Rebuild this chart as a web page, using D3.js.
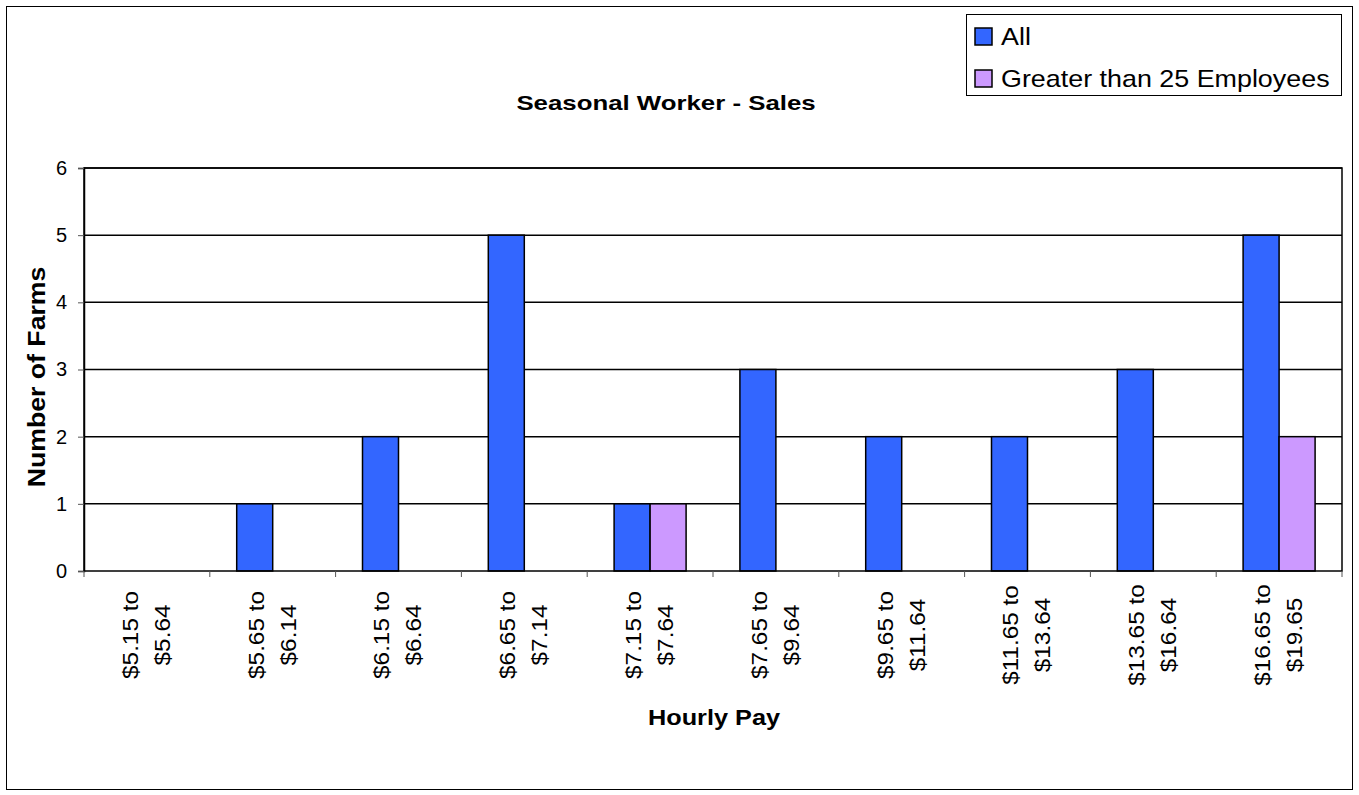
<!DOCTYPE html>
<html>
<head>
<meta charset="utf-8">
<script src="https://cdn.jsdelivr.net/npm/d3@7"></script>
<style>
  body { margin: 0; background: #fff; }
  svg { display: block; font-family: "Liberation Sans", Arial, sans-serif; }
</style>
</head>
<body>
<svg id="chart" width="1359" height="795"></svg>
<script>
// Data
var categories = [
  "$5.15 to|$5.64", "$5.65 to|$6.14", "$6.15 to|$6.64", "$6.65 to|$7.14",
  "$7.15 to|$7.64", "$7.65 to|$9.64", "$9.65 to|$11.64", "$11.65 to|$13.64",
  "$13.65 to|$16.64", "$16.65 to|$19.65"
];
var seriesNames = ["All", "Greater than 25 Employees"];
var allValues = [0, 1, 2, 5, 1, 3, 2, 2, 3, 5];
var bigValues = [0, 0, 0, 0, 1, 0, 0, 0, 0, 2];
var yTicks = [0, 1, 2, 3, 4, 5, 6];
var colors = ["#3366FF", "#CC99FF"];

var svg = d3.select("#chart");

// Outer frame
svg.append("rect")
  .attr("x", 6.5).attr("y", 6.5)
  .attr("width", 1346).attr("height", 783)
  .attr("fill", "none").attr("stroke", "#000").attr("stroke-width", 1);

var plotLeft = 84, plotRight = 1342, plotTop = 168, plotBottom = 571;

var x = d3.scaleBand().domain(categories).range([plotLeft, plotRight]).padding(0);
var bw = x.bandwidth();
var barW = 36;
var x1 = d3.scaleBand().domain(seriesNames).range([0, bw])
  .paddingInner(0).paddingOuter((bw / barW - 2) / 2);
var y = d3.scaleLinear().domain([0, 6]).range([plotBottom, plotTop]);

// Gridlines
svg.append("g").selectAll("line").data(yTicks.slice(1)).join("line")
  .attr("x1", plotLeft).attr("x2", plotRight)
  .attr("y1", function (d) { return y(d); })
  .attr("y2", function (d) { return y(d); })
  .attr("stroke", "#000").attr("stroke-width", 1.5);

// Bars
var rows = categories.map(function (c, i) {
  return { cat: c, vals: [allValues[i], bigValues[i]] };
});
var groups = svg.append("g").selectAll("g").data(rows).join("g")
  .attr("transform", function (d) { return "translate(" + x(d.cat) + ",0)"; });
groups.selectAll("rect")
  .data(function (d) {
    return d.vals.map(function (v, j) { return { s: seriesNames[j], v: v, j: j }; })
      .filter(function (e) { return e.v > 0; });
  })
  .join("rect")
  .attr("x", function (d) { return x1(d.s); })
  .attr("width", x1.bandwidth())
  .attr("y", function (d) { return y(d.v); })
  .attr("height", function (d) { return y(0) - y(d.v); })
  .attr("fill", function (d) { return colors[d.j]; })
  .attr("stroke", "#000").attr("stroke-width", 1.5);

// Plot frame
svg.append("rect")
  .attr("x", plotLeft).attr("y", plotTop)
  .attr("width", plotRight - plotLeft).attr("height", plotBottom - plotTop)
  .attr("fill", "none").attr("stroke", "#000").attr("stroke-width", 1.5);

// Y axis
var yAxis = svg.append("g")
  .attr("transform", "translate(" + plotLeft + ",0)")
  .call(d3.axisLeft(y).tickValues(yTicks).tickSize(6).tickPadding(11).tickFormat(d3.format("d")));
yAxis.select(".domain").attr("stroke", "#000").attr("stroke-width", 1.5);
yAxis.selectAll(".tick line").attr("stroke", "#555");
yAxis.selectAll("text").attr("font-size", 20).attr("fill", "#000")
  .attr("font-family", "Liberation Sans, Arial, sans-serif");

// X axis ticks at category boundaries
var boundaries = categories.map(function (c) { return x(c); }).concat([plotRight]);
svg.append("g").selectAll("line").data(boundaries).join("line")
  .attr("x1", function (d) { return d; }).attr("x2", function (d) { return d; })
  .attr("y1", plotBottom).attr("y2", plotBottom + 6)
  .attr("stroke", "#555").attr("stroke-width", 1);

// X tick labels, rotated, two lines
var labels = svg.append("g").selectAll("text").data(categories).join("text")
  .attr("transform", function (d) {
    return "translate(" + (x(d) + bw / 2) + ",635) rotate(-90) scale(1.08,1)";
  })
  .attr("text-anchor", "middle")
  .attr("font-size", 22.5).attr("fill", "#000");
labels.each(function (d) {
  var parts = d.split("|");
  var t = d3.select(this);
  t.append("tspan").attr("x", 0).attr("y", -17).attr("dy", "0.35em").text(parts[0]);
  t.append("tspan").attr("x", 0).attr("y", 15).attr("dy", "0.35em").text(parts[1]);
});

// Title and axis titles (text in the reference is stretched along its run)
svg.append("text")
  .attr("transform", "translate(666,110) scale(1.29,1)")
  .attr("text-anchor", "middle")
  .attr("font-size", 20).attr("font-weight", "bold")
  .text("Seasonal Worker - Sales");

svg.append("text")
  .attr("transform", "translate(714,725) scale(1.15,1)")
  .attr("text-anchor", "middle")
  .attr("font-size", 22).attr("font-weight", "bold")
  .text("Hourly Pay");

svg.append("text")
  .attr("transform", "translate(45,377) rotate(-90) scale(1.16,1)")
  .attr("text-anchor", "middle")
  .attr("font-size", 23).attr("font-weight", "bold")
  .text("Number of Farms");

// Legend
var legend = svg.append("g");
legend.append("rect")
  .attr("x", 966.5).attr("y", 14.5)
  .attr("width", 375).attr("height", 81)
  .attr("fill", "#fff").attr("stroke", "#000").attr("stroke-width", 1);
var items = legend.selectAll("g").data(seriesNames).join("g")
  .attr("transform", function (d, i) { return "translate(975," + (28 + i * 42) + ")"; });
items.append("rect")
  .attr("width", 17).attr("height", 17)
  .attr("fill", function (d, i) { return colors[i]; })
  .attr("stroke", "#000").attr("stroke-width", 1.5);
items.append("text")
  .attr("transform", "translate(26,17) scale(1.12,1)")
  .attr("font-size", 24).attr("fill", "#000")
  .text(function (d) { return d; });
</script>
</body>
</html>
